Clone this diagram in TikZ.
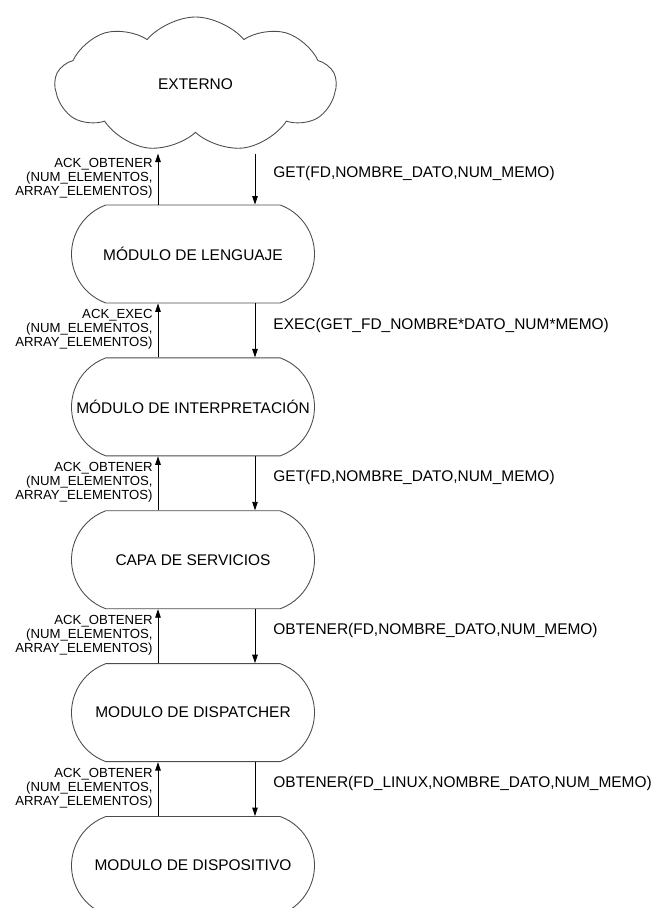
\documentclass[tikz,border=0pt]{standalone}
\usepackage{fontspec}
\setmainfont{Liberation Sans}
\usetikzlibrary{shapes.symbols,shapes.misc,positioning,arrows.meta}

\tikzset{
  nube/.style={draw=black!70, line width=0.5pt, cloud, cloud puffs=9, cloud puff arc=100,
    cloud ignores aspect, minimum width=5.62cm, minimum height=2.7cm, etiq},
  modulo/.style={draw=black!70, line width=0.5pt, rounded rectangle,
    rounded rectangle arc length=140, minimum width=4.86cm, minimum height=1.96cm, inner sep=0pt},
  flecha/.style={-{Triangle[length=0.17cm,width=0.11cm]}, line width=0.5pt},
  etiq/.style={font=\fontsize{8.8}{10}\selectfont, inner sep=0pt},
  ack/.style={font=\fontsize{7.5}{7.9}\selectfont, align=right, inner sep=0pt},
}

\begin{document}
\begin{tikzpicture}
  \clip (0,0) rectangle (13.1,-18.16);

  \node[nube, shape border rotate=8] (externo) at (3.91,-1.69) {EXTERNO};

  % las cinco capas, una debajo de otra
  \node[modulo, label={[etiq]center:MÓDULO DE LENGUAJE}] (lenguaje) at (3.86,-5.08) {};
  \node[modulo, below=1.08cm of lenguaje, label={[etiq]center:MÓDULO DE INTERPRETACIÓN}] (interp) {};
  \node[modulo, below=1.08cm of interp, label={[etiq]center:CAPA DE SERVICIOS}] (servicios) {};
  \node[modulo, below=1.08cm of servicios, label={[etiq]center:MODULO DE DISPATCHER}] (dispatcher) {};
  \node[modulo, below=1.08cm of dispatcher, label={[etiq]center:MODULO DE DISPOSITIVO}] (dispositivo) {};

  % peticiones (bajan)
  \draw[flecha] ([xshift=1.24cm,yshift=1.02cm]lenguaje.north) -- ([xshift=1.24cm]lenguaje.north)
    node[etiq, pos=0.4, right=0.36cm] {GET(FD,NOMBRE\_DATO,NUM\_MEMO)};
  \draw[flecha] ([xshift=1.24cm]lenguaje.south) -- ([xshift=1.24cm]interp.north)
    node[etiq, pos=0.4, right=0.36cm] {EXEC(GET\_FD\_NOMBRE*DATO\_NUM*MEMO)};
  \draw[flecha] ([xshift=1.24cm]interp.south) -- ([xshift=1.24cm]servicios.north)
    node[etiq, pos=0.4, right=0.36cm] {GET(FD,NOMBRE\_DATO,NUM\_MEMO)};
  \draw[flecha] ([xshift=1.24cm]servicios.south) -- ([xshift=1.24cm]dispatcher.north)
    node[etiq, pos=0.4, right=0.36cm] {OBTENER(FD,NOMBRE\_DATO,NUM\_MEMO)};
  \draw[flecha] ([xshift=1.24cm]dispatcher.south) -- ([xshift=1.24cm]dispositivo.north)
    node[etiq, pos=0.4, right=0.36cm] {OBTENER(FD\_LINUX,NOMBRE\_DATO,NUM\_MEMO)};

  % respuestas (suben)
  \draw[flecha] ([xshift=-0.7cm]lenguaje.north) -- ([xshift=-0.7cm,yshift=1.02cm]lenguaje.north)
    node[ack, pos=0.52, left=0.1cm] {ACK\_OBTENER\\(NUM\_ELEMENTOS,\\ARRAY\_ELEMENTOS)};
  \draw[flecha] ([xshift=-0.7cm]interp.north) -- ([xshift=-0.7cm]lenguaje.south)
    node[ack, pos=0.52, left=0.1cm] {ACK\_EXEC\\(NUM\_ELEMENTOS,\\ARRAY\_ELEMENTOS)};
  \draw[flecha] ([xshift=-0.7cm]servicios.north) -- ([xshift=-0.7cm]interp.south)
    node[ack, pos=0.52, left=0.1cm] {ACK\_OBTENER\\(NUM\_ELEMENTOS,\\ARRAY\_ELEMENTOS)};
  \draw[flecha] ([xshift=-0.7cm]dispatcher.north) -- ([xshift=-0.7cm]servicios.south)
    node[ack, pos=0.52, left=0.1cm] {ACK\_OBTENER\\(NUM\_ELEMENTOS,\\ARRAY\_ELEMENTOS)};
  \draw[flecha] ([xshift=-0.7cm]dispositivo.north) -- ([xshift=-0.7cm]dispatcher.south)
    node[ack, pos=0.52, left=0.1cm] {ACK\_OBTENER\\(NUM\_ELEMENTOS,\\ARRAY\_ELEMENTOS)};
\end{tikzpicture}
\end{document}
